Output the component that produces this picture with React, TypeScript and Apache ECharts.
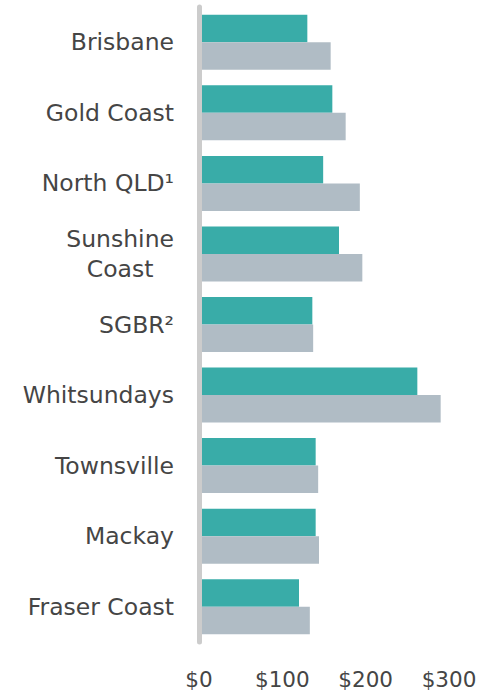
import React, { useEffect, useRef } from "react";
import * as echarts from "echarts";

const categories = [
  "Brisbane",
  "Gold Coast",
  "North QLD¹",
  "Sunshine\nCoast",
  "SGBR²",
  "Whitsundays",
  "Townsville",
  "Mackay",
  "Fraser Coast",
];
const seriesTeal = [130, 160, 149, 168, 136, 262, 140, 140, 120];
const seriesGray = [158, 176, 193, 196, 137, 290, 143, 144, 133];
const xTicks = [0, 100, 200, 300];

export default function App() {
  const ref = useRef<HTMLDivElement>(null);
  useEffect(() => {
    if (!ref.current) return;
    const chart = echarts.init(ref.current, null, { renderer: "svg" });
    chart.setOption({
      animation: false,
      grid: { left: 199, right: 38, top: 7, bottom: 50, containLabel: false },
      xAxis: {
        type: "value",
        min: xTicks[0],
        max: xTicks[xTicks.length - 1],
        interval: 100,
        axisLine: { show: false },
        axisTick: { show: false },
        splitLine: { show: false },
        axisLabel: {
          margin: 26,
          fontFamily: "DejaVu Sans",
          fontSize: 21.5,
          color: "#454545",
          formatter: (v: number) => "$" + v,
        },
      },
      yAxis: {
        type: "category",
        data: categories,
        inverse: true,
        z: 5,
        axisLine: { show: true, lineStyle: { color: "#cccccc", width: 5 } },
        axisTick: { show: false },
        axisLabel: {
          margin: 25,
          fontFamily: "DejaVu Sans",
          fontSize: 23.5,
          color: "#454545",
          lineHeight: 30,
          formatter: (v: string) =>
            v
              .split("\n")
              .map((s) => "{c|" + s + "}")
              .join("\n"),
          rich: {
            c: {
              align: "center",
              fontFamily: "DejaVu Sans",
              fontSize: 23.5,
              color: "#454545",
              lineHeight: 30,
            },
          },
        },
      },
      series: [
        {
          type: "bar",
          data: seriesTeal,
          barWidth: 27.5,
          barGap: "0%",
          itemStyle: { color: "#39aca8" },
        },
        {
          type: "bar",
          data: seriesGray,
          barWidth: 27.5,
          barGap: "0%",
          itemStyle: { color: "#b0bcc5" },
        },
      ],
    });
    return () => chart.dispose();
  }, []);
  return <div ref={ref} style={{ width: 487, height: 692, position: "absolute", left: 0, top: 0 }} />;
}
